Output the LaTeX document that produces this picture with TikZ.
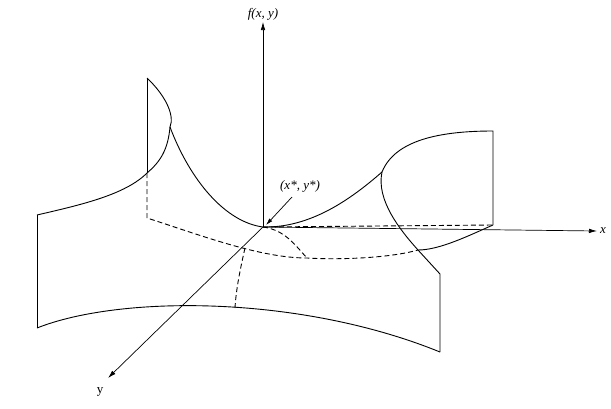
\documentclass[tikz,border=0pt]{standalone}
\usepackage{fontspec}
\setmainfont{Liberation Serif}
\usetikzlibrary{arrows.meta}
\begin{document}
\begin{tikzpicture}[x=1pt,y=-1pt,
  curve/.style={line width=0.9pt},
  hid/.style={line width=0.9pt,dash pattern=on 5pt off 3pt},
  axis/.style={line width=0.7pt,-{Latex[length=8pt,width=4.5pt]}},
  lab/.style={font=\itshape\fontsize{13}{15}\selectfont,inner sep=1pt}]
\useasboundingbox (0,0) rectangle (611,408);
\coordinate (O) at (263,227);
\coordinate (fT) at (263,22);
\coordinate (xT) at (597,231);
\coordinate (yT) at (108,378);
\coordinate (LT) at (147,78);
\coordinate (LM) at (170,127);
\coordinate (LJ) at (147,173);
\coordinate (LA) at (37,215);
\coordinate (LB) at (37,328);
\coordinate (LD) at (147,218);
\coordinate (RT) at (493,131);
\coordinate (RB) at (493,225);
\coordinate (RM) at (382,172);
\coordinate (RJ) at (418,250);
\coordinate (RK) at (440,274);
\coordinate (RE) at (440,352);
\coordinate (DM) at (307,258);
\coordinate (DY) at (245,248);
\coordinate (DB) at (235,308);
% axes
\draw[axis] (O) -- (fT);
\draw[axis] (O) -- (xT);
\draw[axis] (O) -- (yT);
\node[lab] (fl) at (263,14) {f(x, y)};
\node[lab,anchor=west] (xl) at (599,231) {x};
\node[lab,font=\fontsize{13}{15}\selectfont] (yl) at (100,392) {y};
\node[lab] (pl) at (300,186) {(x*, y*)};
\draw[line width=0.7pt,-{Latex[length=7pt,width=4pt]}] (292,197) -- (266,225);
% left panel
\draw[curve] (LA) -- (LB);
\draw[curve] (LJ) -- (LT);
\draw[curve] (LT) .. controls (165,95) and (175,115) .. (LM);
\draw[curve] (LM) .. controls (168,150) and (160,162) .. (LJ) .. controls (125,195) and (80,205) .. (LA);
\draw[curve] (LM) .. controls (190,180) and (225,222) .. (O);
% right saddle
\draw[curve] (O) .. controls (310,228) and (350,200) .. (RM);
\draw[curve] (RM) .. controls (395,140) and (440,131) .. (RT) -- (RB);
\draw[curve] (RM) .. controls (376,200) and (400,230) .. (RJ) -- (RK) -- (RE);
\draw[curve] (RB) .. controls (470,235) and (440,250) .. (RJ);
% bottom arc
\draw[curve] (LB) .. controls (120,295) and (300,295) .. (RE);
% hidden lines
\draw[hid] (LJ) -- (LD) .. controls (200,235) and (260,258) .. (DM) .. controls (340,260) and (390,258) .. (RJ);
\draw[hid] (O) -- (RB);
\draw[hid] (O) .. controls (285,230) and (295,245) .. (DM);
\draw[hid] (DY) .. controls (240,270) and (236,290) .. (DB);
\end{tikzpicture}
\end{document}
